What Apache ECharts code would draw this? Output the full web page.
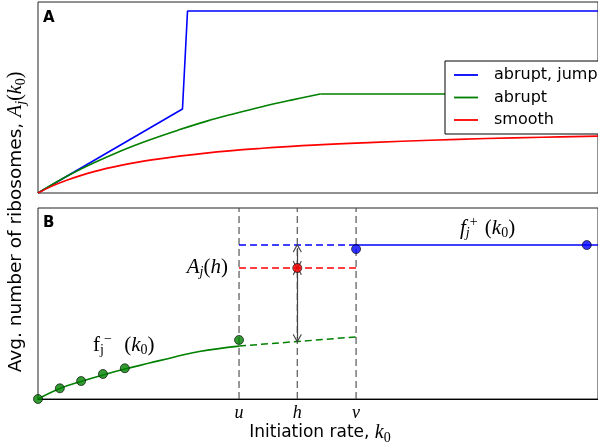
<!DOCTYPE html>
<html>
<head>
<meta charset="utf-8">
<script src="https://cdn.jsdelivr.net/npm/echarts@6/dist/echarts.min.js"></script>
<style>
  html, body { margin: 0; padding: 0; background: #fff; }
  #chart { width: 598px; height: 448px; }
</style>
</head>
<body>
<div id="chart"></div>
<script>
// ---- Panel A: average ribosome count vs initiation rate for three transition types ----
const seriesNamesA = ['abrupt, jump', 'abrupt', 'smooth'];
const abruptJump = [[0, 0], [2.58, 4.40], [2.67, 9.53], [10, 9.53]];
const abrupt = [[0, 0], [0.5, 0.85], [1, 1.58], [1.5, 2.23], [2, 2.79], [2.5, 3.29], [3, 3.75],
                [3.5, 4.15], [4, 4.52], [4.5, 4.85], [5.04, 5.18]];
const abruptPlateau = [[5.04, 5.18], [10, 5.18]];
const smooth = [[0, 0], [0.25, 0.36], [0.5, 0.66], [1, 1.12], [1.5, 1.46], [2, 1.72], [3, 2.09],
                [4, 2.34], [5, 2.52], [6, 2.65], [7, 2.76], [8, 2.85], [9, 2.92], [10, 2.98]];

// ---- Panel B: construction of A_j(h) between the two branches f_j^- and f_j^+ ----
const tickNames = ['u', 'h', 'v'];
const tickValues = [3.59, 4.63, 5.68];
const fMinusCurve = [[0, 0], [0.39, 0.55], [0.77, 0.92], [1.16, 1.26], [1.55, 1.57], [1.99, 1.88],
                     [2.44, 2.20], [2.88, 2.49], [3.59, 2.77]];
const fMinusExtension = [[3.59, 2.77], [4.63, 3.01], [5.68, 3.25]];
const fMinusSamples = [[0, 0], [0.39, 0.56], [0.77, 0.94], [1.16, 1.31], [1.55, 1.61], [3.59, 3.09]];
const fPlusLevel = 8.06;
const fPlusSamples = [[5.68, 7.85], [9.80, 8.06]];
const aOfH = 6.86;
const upperArrow = [7.90, 7.00];
const lowerArrow = [6.72, 3.17];

const X_MAX = 10;
const Y_MAX = 10;
const [U, H, V] = tickValues;

const BLUE = '#0000ff', GREEN = '#008000', RED = '#ff0000', GUIDE = '#555555';
const MATH = 'Liberation Serif';
const SANS = 'DejaVu Sans';

// Rich-text styles for the axis titles (sans + inline math)
const titleStyles = {
  s:   { fontFamily: SANS, fontSize: 17, color: '#000' },
  sy:  { fontFamily: SANS, fontSize: 18.5, color: '#000' },
  mi:  { fontFamily: MATH, fontStyle: 'italic', fontSize: 20, color: '#000' },
  mr:  { fontFamily: MATH, fontSize: 20, color: '#000' },
  sbi: { fontFamily: MATH, fontStyle: 'italic', fontSize: 14, color: '#000', padding: [10, 0, 0, 0] },
  sbr: { fontFamily: MATH, fontSize: 14, color: '#000', padding: [10, 0, 0, 0] }
};
// Rich-text styles for the in-plot math annotations
const mathStyles = {
  mi:  { fontFamily: MATH, fontStyle: 'italic', fontSize: 21, color: '#000' },
  mr:  { fontFamily: MATH, fontSize: 21, color: '#000' },
  sbi: { fontFamily: MATH, fontStyle: 'italic', fontSize: 14, color: '#000', padding: [10, 0, 0, 0] },
  sbr: { fontFamily: MATH, fontSize: 14, color: '#000', padding: [10, 0, 0, 0] },
  spr: { fontFamily: MATH, fontSize: 14, color: '#000', padding: [0, 2, 11, 0] }
};

function dashed(data, color, width) {
  return {
    type: 'line', xAxisIndex: 1, yAxisIndex: 1, data: data,
    symbol: 'none', silent: true, z: 2,
    lineStyle: { color: color, width: width, type: [7, 4] }
  };
}

const chevron = 'path://M0,0 L6,9 L4.9,9.9 L0,2.6 L-4.9,9.9 L-6,9 Z';

const option = {
  animation: false,
  backgroundColor: '#fff',
  grid: [
    { left: 38, right: -2, top: 2, height: 191, show: true, borderColor: '#222', borderWidth: 1, backgroundColor: 'transparent' },
    { left: 38, right: -2, top: 208, height: 191, show: true, borderColor: '#222', borderWidth: 1, backgroundColor: 'transparent' }
  ],
  xAxis: [
    { type: 'value', gridIndex: 0, min: 0, max: X_MAX,
      axisLine: { show: false }, axisTick: { show: false }, axisLabel: { show: false }, splitLine: { show: false } },
    { type: 'value', gridIndex: 1, min: 0, max: X_MAX,
      axisLine: { show: true, onZero: false, lineStyle: { color: '#000', width: 1 } },
      axisTick: { show: false },
      splitLine: { show: false },
      axisLabel: {
        show: true, customValues: tickValues, margin: 5,
        fontFamily: MATH, fontStyle: 'italic', fontSize: 18, color: '#000',
        formatter: function (val) {
          let best = 0;
          tickValues.forEach(function (t, i) {
            if (Math.abs(t - val) < Math.abs(tickValues[best] - val)) best = i;
          });
          return tickNames[best];
        }
      }
    }
  ],
  yAxis: [
    { type: 'value', gridIndex: 0, min: 0, max: Y_MAX,
      axisLine: { show: false }, axisTick: { show: false }, axisLabel: { show: false }, splitLine: { show: false } },
    { type: 'value', gridIndex: 1, min: 0, max: Y_MAX,
      axisLine: { show: false }, axisTick: { show: false }, axisLabel: { show: false }, splitLine: { show: false } }
  ],
  legend: {
    data: seriesNamesA,
    orient: 'vertical',
    left: 445, top: 61,
    backgroundColor: '#fff',
    borderColor: '#000', borderWidth: 1, borderRadius: 0,
    padding: [6, 12, 6, 9],
    icon: 'rect',
    itemWidth: 24, itemHeight: 1.8, itemGap: 6.5,
    selectedMode: false,
    formatter: function (name) { return '{t|' + name + '}'; },
    textStyle: {
      fontFamily: SANS, fontSize: 16, color: '#000',
      rich: { t: { fontFamily: SANS, fontSize: 16, lineHeight: 16, color: '#000', padding: [0, 0, 0, 11] } }
    }
  },
  series: [
    // Panel A
    { name: seriesNamesA[0], type: 'line', xAxisIndex: 0, yAxisIndex: 0, data: abruptJump,
      symbol: 'none', lineStyle: { color: BLUE, width: 1.6 }, itemStyle: { color: BLUE } },
    { name: seriesNamesA[1], type: 'line', xAxisIndex: 0, yAxisIndex: 0, data: abrupt,
      symbol: 'none', smooth: 0.4,
      lineStyle: { color: GREEN, width: 1.6 }, itemStyle: { color: GREEN } },
    { name: seriesNamesA[1], type: 'line', xAxisIndex: 0, yAxisIndex: 0, data: abruptPlateau,
      symbol: 'none', lineStyle: { color: GREEN, width: 1.6 }, itemStyle: { color: GREEN } },
    { name: seriesNamesA[2], type: 'line', xAxisIndex: 0, yAxisIndex: 0, data: smooth,
      symbol: 'none', smooth: 0.4,
      lineStyle: { color: RED, width: 1.6 }, itemStyle: { color: RED } },

    // Panel B: vertical guides at u, h, v
    dashed([[U, 0], [U, Y_MAX]], GUIDE, 1.2),
    dashed([[H, 0], [H, Y_MAX]], GUIDE, 1.2),
    dashed([[V, 0], [V, Y_MAX]], GUIDE, 1.2),

    // Horizontal guides between u and v
    dashed([[U, fPlusLevel], [V, fPlusLevel]], BLUE, 1.5),
    dashed([[U, aOfH], [V, aOfH]], RED, 1.5),
    dashed(fMinusExtension, GREEN, 1.5),

    // Lower branch f_j^-
    { type: 'line', xAxisIndex: 1, yAxisIndex: 1, data: fMinusCurve, symbol: 'none',
      smooth: 0.4, silent: true, z: 3,
      lineStyle: { color: GREEN, width: 1.6 } },
    // Upper branch f_j^+
    { type: 'line', xAxisIndex: 1, yAxisIndex: 1, data: [[V, fPlusLevel], [X_MAX, fPlusLevel]],
      symbol: 'none', silent: true, z: 3, lineStyle: { color: BLUE, width: 1.6 } },

    // Distance arrows at h
    { type: 'line', xAxisIndex: 1, yAxisIndex: 1, data: [], silent: true, z: 4,
      markLine: {
        silent: true, animation: false,
        symbol: [chevron, chevron], symbolSize: [9, 9],
        label: { show: false },
        itemStyle: { color: '#222' },
        lineStyle: { color: '#444', width: 1.2, type: 'solid' },
        data: [
          [{ coord: [H, upperArrow[0]] }, { coord: [H, upperArrow[1]] }],
          [{ coord: [H, lowerArrow[0]] }, { coord: [H, lowerArrow[1]] }]
        ]
      }
    },

    // Sample points
    { type: 'scatter', xAxisIndex: 1, yAxisIndex: 1, data: fMinusSamples, symbolSize: 9, z: 5,
      itemStyle: { color: GREEN, borderColor: '#000', borderWidth: 0.8 } },
    { type: 'scatter', xAxisIndex: 1, yAxisIndex: 1, data: fPlusSamples, symbolSize: 9, z: 5,
      itemStyle: { color: BLUE, borderColor: '#000', borderWidth: 0.8 } },
    { type: 'scatter', xAxisIndex: 1, yAxisIndex: 1, data: [[H, aOfH]], symbolSize: 9, z: 5,
      itemStyle: { color: RED, borderColor: '#000', borderWidth: 0.8 } }
  ],
  graphic: [
    { type: 'text', x: 43, y: 18, z: 10,
      style: { text: 'A', fontFamily: SANS, fontWeight: 'bold', fontSize: 15, fill: '#000', verticalAlign: 'middle' } },
    { type: 'text', x: 43, y: 223, z: 10,
      style: { text: 'B', fontFamily: SANS, fontWeight: 'bold', fontSize: 15, fill: '#000', verticalAlign: 'middle' } },
    { type: 'text', x: 16, y: 222, rotation: Math.PI / 2, z: 10,
      style: {
        text: '{sy|Avg. number of ribosomes, }{mi|A}{sbi|j}{mr|(}{mi|k}{sbr|0}{mr|)}',
        rich: titleStyles, align: 'center', verticalAlign: 'middle'
      } },
    { type: 'text', x: 320, y: 433, z: 10,
      style: {
        text: '{s|Initiation rate, }{mi|k}{sbr|0}',
        rich: titleStyles, align: 'center', verticalAlign: 'middle'
      } },
    { type: 'text', x: 228, y: 267, z: 10,
      style: {
        text: '{mi|A}{sbi|j}{mr|(}{mi|h}{mr|)}',
        rich: mathStyles, align: 'right', verticalAlign: 'middle'
      } },
    { type: 'text', x: 93, y: 345, z: 10,
      style: {
        text: '{mr|f}{sbr|j}{spr|−}{mr|  (}{mi|k}{sbr|0}{mr|)}',
        rich: mathStyles, align: 'left', verticalAlign: 'middle'
      } },
    { type: 'text', x: 460, y: 228, z: 10,
      style: {
        text: '{mi|f}{sbi|j}{spr|+}{mr| (}{mi|k}{sbr|0}{mr|)}',
        rich: mathStyles, align: 'left', verticalAlign: 'middle'
      } }
  ]
};

const chart = echarts.init(document.getElementById('chart'), null, { renderer: 'canvas' });
chart.setOption(option);
</script>
</body>
</html>
